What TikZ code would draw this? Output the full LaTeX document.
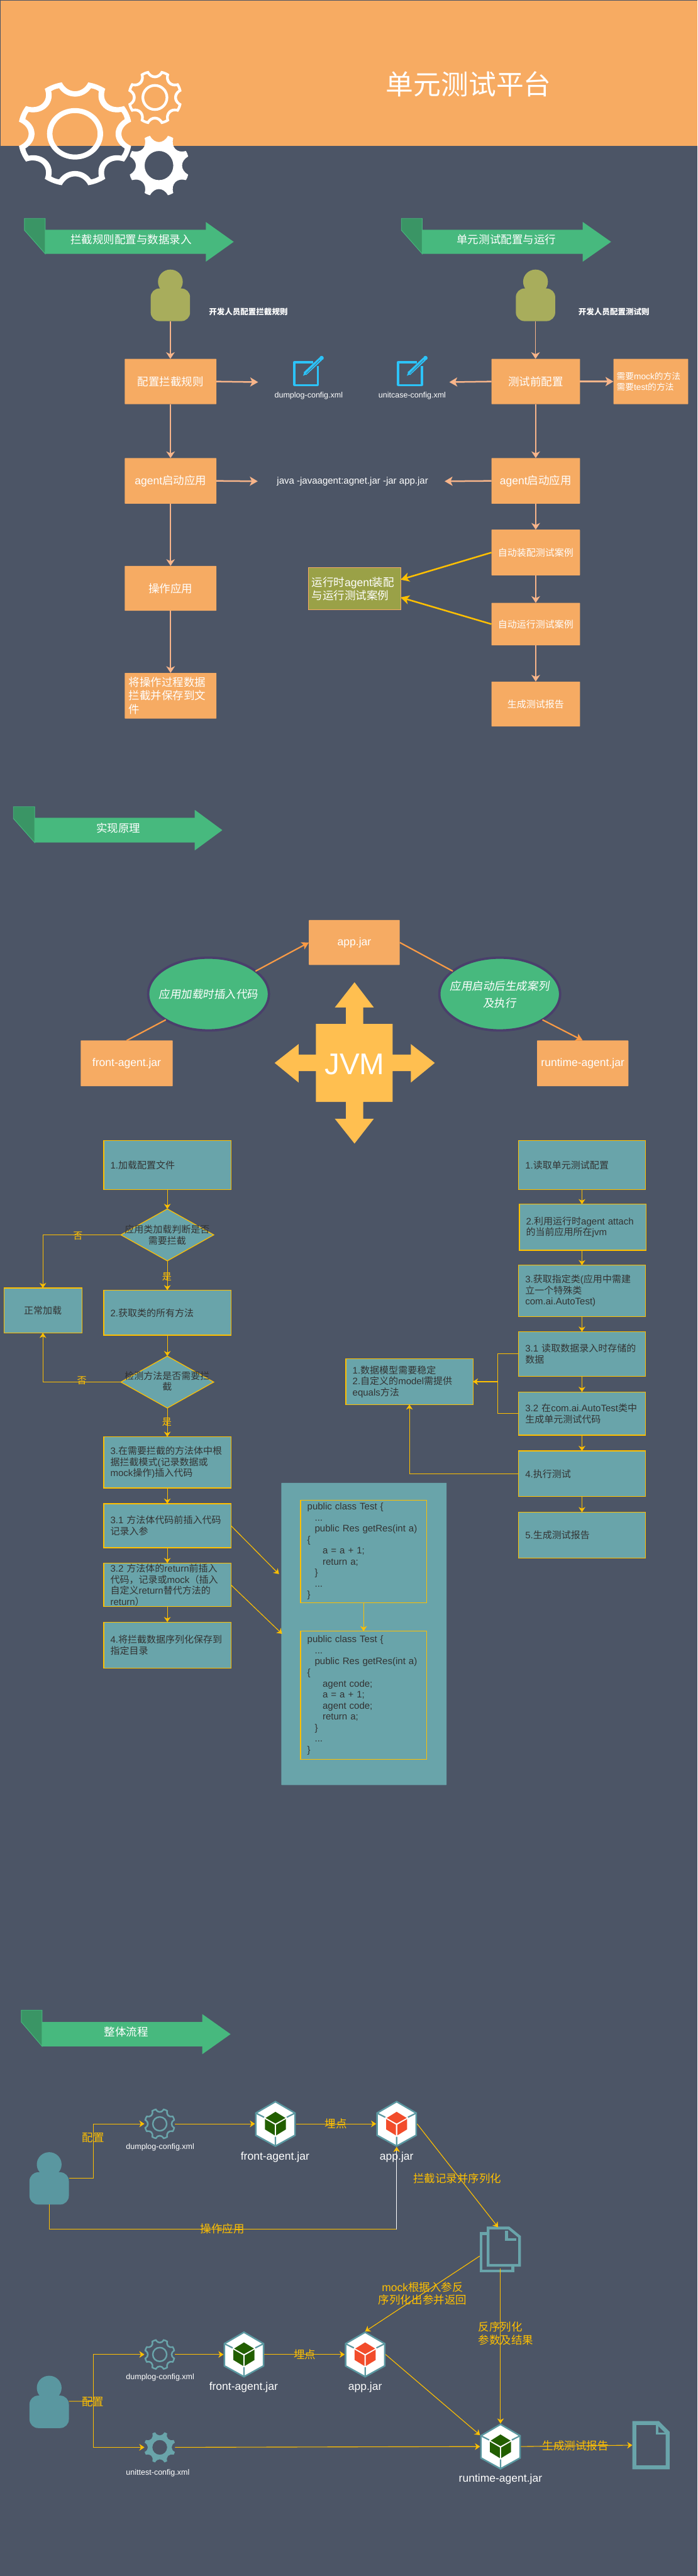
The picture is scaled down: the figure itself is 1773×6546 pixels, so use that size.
\documentclass[tikz,border=0pt]{standalone}
\usepackage{fontspec}
\setmainfont{Liberation Sans}
\newfontfamily\cjk{Noto Sans CJK SC}
\newfontfamily\cjkh[FakeSlant=0.15]{Noto Sans CJK SC}
\usetikzlibrary{arrows.meta,shapes.geometric,calc}
\definecolor{cBg}{HTML}{4C5566}
\definecolor{cHead}{HTML}{F7AB62}
\definecolor{cPeach}{HTML}{F6AB63}
\definecolor{cLine}{HTML}{F8B58A}
\definecolor{cTeal}{HTML}{69A4AA}
\definecolor{cPers}{HTML}{5A97A0}
\definecolor{cYel}{HTML}{FFC000}
\definecolor{cGreen}{HTML}{47B97E}
\definecolor{cTab}{HTML}{3A9565}
\definecolor{cOlive}{HTML}{A8AD5C}
\definecolor{cOliveBox}{HTML}{9AA147}
\definecolor{cBlue}{HTML}{2CC3F8}
\definecolor{cJvm}{HTML}{FFBF50}
\definecolor{cOrange}{HTML}{FA9B45}
\definecolor{cRim}{HTML}{4A3F6B}
\definecolor{cDark}{HTML}{333333}
\definecolor{cCubeG}{HTML}{225E00}
\definecolor{cCubeR}{HTML}{F24C2B}
\newcommand\fz[2]{\fontsize{#1pt}{#2pt}\selectfont}
\newcommand\cn[1]{{\cjk #1}}
\newcommand\cnb[1]{{\cjk\bfseries #1}}
\tikzset{
  peachbox/.style={fill=cPeach,text=white,rounded corners=1pt,align=center,inner sep=0pt,outer sep=0pt,font=\fz{28}{34}},
  peachsmall/.style={peachbox,font=\fz{24}{28}},
  tealbox/.style={fill=cTeal,draw=cYel,line width=2pt,text=cDark,align=left,inner xsep=17pt,inner ysep=0pt,outer sep=0pt,font=\fz{24}{28}},
  tealcentre/.style={fill=cTeal,draw=cYel,line width=2pt,text=cDark,align=center,inner sep=0pt,outer sep=0pt,font=\fz{24}{28}},
  decide/.style={diamond,fill=cTeal,draw=cYel,line width=2pt,inner sep=0pt,outer sep=0pt,text=cDark},
  roundel/.style={ellipse,fill=cGreen,draw=cRim,line width=6pt,inner sep=0pt,outer sep=0pt,minimum width=307pt,minimum height=185pt},
  roundeltext/.style={text=white,inner sep=0pt,align=center,font=\fz{28}{43}},
  freebox/.style={inner sep=0pt,outer sep=0pt},
  wlabel/.style={text=white,inner sep=0pt,align=center,font=\fz{28}{34}},
  wsmall/.style={text=white,inner sep=0pt,align=center,font=\fz{20}{24}},
  ylabel/.style={text=cYel,inner sep=0pt,align=center,font=\fz{28}{33}},
  ysmall/.style={text=cYel,inner sep=0pt,align=center,font=\fz{24}{28}},
  dtext/.style={text=cDark,inner sep=0pt,align=center,font=\fz{24}{28}},
  thinpeach/.style={draw=cLine,line width=2.5pt,-{Stealth[length=17pt,width=22pt,inset=5pt]}},
  thickpeach/.style={draw=cLine,line width=4pt,-{Stealth[length=20pt,width=23pt,inset=5pt]}},
  yelthick/.style={draw=cYel,line width=4pt,-{Stealth[length=22pt,width=23pt,inset=6pt]}},
  yelarrow/.style={draw=cYel,line width=1.8pt,-{Stealth[length=13pt,width=17pt,inset=4pt]}},
  yelline/.style={draw=cYel,line width=1.8pt},
  orangearrow/.style={draw=cOrange,line width=3.5pt,-{Stealth[length=18pt,width=20pt,inset=4pt]}},
  orangeline/.style={draw=cOrange,line width=3.5pt},
  hexanchor/.style={freebox,minimum width=104pt,minimum height=117pt},
}
% box from corners
\newcommand\mybox[7]{%
  \pgfmathsetmacro\bxw{#4-#2}\pgfmathsetmacro\bxh{#5-#3}%
  \pgfmathsetmacro\bxx{(#2+#4)/2}\pgfmathsetmacro\bxy{(#3+#5)/2}%
  \node[#6,minimum width=\bxw pt,minimum height=\bxh pt] (#1) at (\bxx,\bxy) {#7};}
\newcommand\tealb[6]{%
  \pgfmathsetmacro\bxt{#4-#2-34}\pgfmathsetmacro\bxh{#5-#3}%
  \pgfmathsetmacro\bxx{(#2+#4)/2}\pgfmathsetmacro\bxy{(#3+#5)/2}%
  \node[tealbox,text width=\bxt pt,minimum height=\bxh pt] (#1) at (\bxx,\bxy) {#6};}
% banner: tabL top tabLeftBottom tabR bodyTop bodyBottom headX headTop tipX
\newcommand\banner[9]{%
  \pgfmathsetmacro\bnm{(#5+#6)/2}%
  \fill[cGreen] (#4,#5) -- (#7,#5) -- (#7,#8) -- (#9,\bnm) -- (#7,{2*\bnm-#8}) -- (#7,#6) -- (#4,#6) -- cycle;
  \filldraw[fill=cTab,draw=cGreen,line width=1.5pt] (#1,#2) -- (#4,#2) -- (#4,#6) -- (#1,#3) -- cycle;}
% outlined gear
\newcommand\gearO[6]{%
  \node[freebox,minimum width=78pt,minimum height=78pt] (#1) at (#2,#3) {};
  \begin{scope}[shift={(#2,#3)},x=#4pt,y=#5pt]
  \fill[#6,even odd rule] ({-13.3}:1) \foreach \ga in {0,45,...,315} { .. controls ({\ga-9.5}:0.76) and ({\ga+9.5}:0.76) .. ({\ga+13.3}:1) .. controls ({\ga+19.3}:1.012) and ({\ga+25.7}:1.012) .. ({\ga+31.7}:1) } -- cycle
     ({-17.8}:0.906) \foreach \ga in {0,45,...,315} { .. controls ({\ga-12}:0.665) and ({\ga+12}:0.665) .. ({\ga+17.8}:0.906) .. controls ({\ga+21}:0.915) and ({\ga+24}:0.915) .. ({\ga+27.2}:0.906) } -- cycle;
  \fill[#6,even odd rule] (0,0) circle[radius=0.49] (0,0) circle[radius=0.392];
  \end{scope}}
% filled gear
\newcommand\gearF[6]{%
  \node[freebox,minimum width=78pt,minimum height=78pt] (#1) at (#2,#3) {};
  \begin{scope}[shift={(#2,#3)},x=#4pt,y=#5pt]
  \fill[#6,even odd rule] ({-17}:1) \foreach \ga in {0,45,...,315} { .. controls ({\ga-12}:0.707) and ({\ga+12}:0.707) .. ({\ga+17}:1) .. controls ({\ga+20}:1.008) and ({\ga+25}:1.008) .. ({\ga+28}:1) } -- cycle
     (0,0) circle[radius=0.47];
  \end{scope}}
% hexagon with cube
\newcommand\hexicon[4]{%
  \node[hexanchor] (#1) at (#2,#3) {};
  \begin{scope}[shift={(#2,#3)}]
  \filldraw[fill=white,draw=cPers,line width=4pt,miter limit=4] (0,-56.5) -- (49.7,-27.5) -- (49.7,29) -- (0,56.5) -- (-49.7,29) -- (-49.7,-27.5) -- cycle;
  \draw[cPers,line width=3.5pt] (-48,-26.5) -- (-28.7,-16.7) (48,-26.5) -- (28.7,-16.7) (0,32.7) -- (0,55);
  \fill[#4] (0,-30.7) -- (25.5,-15) -- (0,-1) -- (-25,-15) -- cycle;
  \fill[#4] (-26.7,-12.3) -- (-1.7,2.3) -- (-1.7,29.3) -- (-26.7,14) -- cycle;
  \fill[#4] (26.7,-12.3) -- (1.7,2.3) -- (1.7,29.3) -- (26.7,14) -- cycle;
  \end{scope}}
% edit icon
\newcommand\editicon[3]{%
  \node[freebox,minimum width=66pt,minimum height=64pt] (#1) at ({#2+33},{#3+32}) {};
  \begin{scope}[shift={(#2,#3)}]
  \draw[cBlue,line width=5.5pt,line join=round] (63.2,12.3) -- (63.2,60.5) -- (2.8,60.5) -- (2.8,2.8) -- (51,2.8);
  \draw[cBlue,line width=9.5pt] (30,31.6) -- (70,-6);
  \fill[cBlue] (25,37) -- (28.5,28) -- (33,33.5) -- cycle;
  \draw[cBg,line width=0.9pt] (32.5,31.7) -- (68,-3.3);
  \fill[cBlue] (72.3,-8.3) circle[radius=5.5];
  \end{scope}}
% person
\newcommand\person[6]{%
  \fill[#6] (#2,#3) ellipse[x radius=31.5,y radius=31];
  \pgfmathsetmacro\pbh{#5-#4}\pgfmathsetmacro\pby{(#4+#5)/2}%
  \node[freebox,fill=#6,rounded corners=22pt,minimum width=100pt,minimum height=\pbh pt] (#1) at (#2,\pby) {};}

\begin{document}
\begin{tikzpicture}[x=1pt,y=-1pt]
\useasboundingbox (0,0) rectangle (1773,6546);
\fill[cBg] (0,0) rectangle (1773,6546);
\fill[cHead] (1,1.5) rectangle (1773,370);

% header
\node[text=white,inner sep=0pt,font=\fz{70}{80}] (title) at (1191,214) {\cn{单元测试平台}};
\begin{scope}[shift={(190.7,340)},x=146.4pt,y=134.3pt]
\fill[white,even odd rule] ({-13.3}:1) \foreach \ga in {0,45,...,315} { .. controls ({\ga-9.5}:0.76) and ({\ga+9.5}:0.76) .. ({\ga+13.3}:1) .. controls ({\ga+19.3}:1.012) and ({\ga+25.7}:1.012) .. ({\ga+31.7}:1) } -- cycle
   ({-17.8}:0.906) \foreach \ga in {0,45,...,315} { .. controls ({\ga-12}:0.665) and ({\ga+12}:0.665) .. ({\ga+17.8}:0.906) .. controls ({\ga+21}:0.915) and ({\ga+24}:0.915) .. ({\ga+27.2}:0.906) } -- cycle;
\fill[white,even odd rule] (0,0) circle[radius=0.487] (0,0) circle[radius=0.392];
\end{scope}
\gearO{gearsmall}{393.7}{247.7}{69.5}{69.5}{white}
\gearF{gearfull}{404}{420.7}{77.5}{78.8}{white}

% banners
\banner{62}{555}{585}{115}{584}{645}{523}{564}{594}
\node[wlabel] (ban1) at (333,609) {\cn{拦截规则配置与数据录入}};
\banner{1020}{555}{585}{1073}{584}{645}{1481}{564}{1553}
\node[wlabel] (ban2) at (1287,609) {\cn{单元测试配置与运行}};
\banner{34}{2050}{2080}{88}{2078}{2141}{495}{2058}{565}
\node[wlabel] (ban3) at (301,2105) {\cn{实现原理}};
\banner{54}{5108}{5138}{107}{5138}{5200}{514}{5118}{586}
\node[wlabel] (ban4) at (321,5163) {\cn{整体流程}};

% section 1 left
\person{dev1}{433}{716}{733}{816}{cOlive}
\node[text=white,inner sep=0pt,anchor=west,font=\fz{20}{24}] (dev1t) at (531,793) {\cnb{开发人员配置拦截规则}};
\mybox{a1}{317}{912}{550}{1027}{peachbox}{\cn{配置拦截规则}}
\mybox{a2}{317}{1164}{550}{1280}{peachbox}{agent\cn{启动应用}}
\mybox{a3}{317}{1438}{550}{1552}{peachbox}{\cn{操作应用}}
\mybox{a4}{317}{1710}{550}{1826}{peachbox,align=left,text width=213pt}{\cn{将操作过程数据}\\\cn{拦截并保存到文}\\\cn{件}}
% section 1 right
\person{dev2}{1361}{716}{733}{816}{cOlive}
\node[text=white,inner sep=0pt,anchor=west,font=\fz{20}{24}] (dev2t) at (1470,793) {\cnb{开发人员配置测试则}};
\mybox{b1}{1249}{912}{1474}{1027}{peachbox}{\cn{测试前配置}}
\mybox{b1x}{1559}{912}{1749}{1027}{peachbox,align=left,text width=174pt,font=\fz{22}{27}}{\cn{需要}mock\cn{的方法}\\\cn{需要}test\cn{的方法}}
\mybox{b2}{1249}{1164}{1474}{1280}{peachbox}{agent\cn{启动应用}}
\mybox{b3}{1249}{1346}{1474}{1462}{peachsmall}{\cn{自动装配测试案例}}
\mybox{b4}{1249}{1532}{1474}{1640}{peachsmall}{\cn{自动运行测试案例}}
\mybox{b5}{1249}{1732}{1474}{1846}{peachsmall}{\cn{生成测试报告}}
\mybox{ol}{784}{1443}{1018}{1549}{fill=cOliveBox,draw=cPeach,line width=1.5pt,text=white,align=left,text width=218pt,inner xsep=8pt,inner ysep=0pt,outer sep=0pt,font=\fz{28}{33}}{\cn{运行时}agent\cn{装配}\\\cn{与运行测试案例}}
\editicon{ed1}{745}{918}
\editicon{ed2}{1009}{918}
\node[wsmall] (ed1t) at (784.5,1005) {dumplog-config.xml};
\node[wsmall] (ed2t) at (1047.5,1005) {unitcase-config.xml};
\node[text=white,inner sep=0pt,font=\fz{24}{28}] (javat) at (896,1223) {java -javaagent:agnet.jar -jar app.jar};
\coordinate (e1) at (656,971);
\coordinate (e2) at (1142,971);
\coordinate (e3) at (655,1223);
\coordinate (e4) at (1130,1223);
\draw[thinpeach] (dev1.south) -- (dev1.south |- a1.north);
\draw[thinpeach] (a1.south) -- (a2.north);
\draw[thinpeach] (a2.south) -- (a3.north);
\draw[thinpeach] (a3.south) -- (a4.north);
\draw[thinpeach] (dev2.south) -- (dev2.south |- b1.north);
\draw[thinpeach] (b1.south) -- (b2.north);
\draw[thinpeach] (b2.south) -- (b3.north);
\draw[thinpeach] (b3.south) -- (b4.north);
\draw[thinpeach] (b4.south) -- (b5.north);
\draw[thickpeach] (a1.east) -- (e1);
\draw[thickpeach] (b1.west) -- (e2);
\draw[thickpeach] (b1.east) -- (b1x.west);
\draw[thickpeach] (a2.east) -- (e3);
\draw[thickpeach] (b2.west) -- (e4);
\draw[yelthick] (b3.west) -- ($(ol.east)+(0,-23)$);
\draw[yelthick] (b4.west) -- ($(ol.east)+(0,22)$);

% section 2
\mybox{japp}{785}{2338}{1016}{2452}{peachbox}{app.jar}
\mybox{jfront}{205}{2644}{439}{2760}{peachbox}{front-agent.jar}
\mybox{jrun}{1365}{2644}{1597}{2760}{peachbox}{runtime-agent.jar}
\node[roundel] (c1) at (530,2526) {};
\node[roundeltext] (c1t) at (530,2527) {\cjkh 应用加载时插入代码};
\node[roundel] (c2) at (1270,2526) {};
\node[roundeltext] (c2t) at (1270,2526.5) {\cjkh 应用启动后生成案列\\\cjkh 及执行};
\draw[orangeline] (jfront.north) -- (c1.south west);
\draw[orangearrow] (c1.26) -- (japp.west);
\draw[orangeline] (japp.east) -- (c2.154);
\draw[orangearrow] (c2.south east) -- (jrun.north);
\fill[cJvm] (879,2602) -- (879,2560) -- (851,2560) -- (901,2496) -- (950,2560) -- (923,2560) -- (923,2602) -- (998,2602) -- (998,2680) -- (1044,2680) -- (1044,2653) -- (1105,2701) -- (1044,2751) -- (1044,2722) -- (998,2722) -- (998,2800) -- (923,2800) -- (923,2843) -- (950,2843) -- (901,2906) -- (851,2843) -- (879,2843) -- (879,2800) -- (803,2800) -- (803,2722) -- (759,2722) -- (759,2751) -- (698,2701) -- (759,2653) -- (759,2680) -- (803,2680) -- (803,2602) -- cycle;
\node[text=white,inner sep=0pt,font=\fz{76}{80}] (jvm) at (901,2705) {JVM};

% section 3 left flow
\tealb{f1}{263.5}{2898}{587}{3023}{1.\cn{加载配置文件}}
\node[decide,minimum width=236pt,minimum height=132pt] (d1) at (425.25,3138) {};
\node[dtext] (d1t) at (425,3138) {\cn{应用类加载判断是否}\\\cn{需要拦截}};
\mybox{nl}{10}{3273}{208}{3387}{tealcentre}{\cn{正常加载}}
\tealb{f2}{263.5}{3278.6}{587}{3393}{2.\cn{获取类的所有方法}}
\node[decide,minimum width=236pt,minimum height=132pt] (d2) at (425.25,3512) {};
\node[dtext] (d2t) at (425,3510) {\cn{检测方法是否需要拦}\\\cn{截}};
\tealb{f3}{263.5}{3651}{587}{3781}{3.\cn{在需要拦截的方法体中根}\\\cn{据拦截模式}(\cn{记录数据或}\\mock\cn{操作})\cn{插入代码}}
\tealb{f31}{263.5}{3821}{587}{3933}{3.1 \cn{方法体代码前插入代码}\\\cn{记录入参}}
\tealb{f32}{263.5}{3972}{587}{4083}{3.2 \cn{方法体的}return\cn{前插入}\\\cn{代码，记录或}mock\cn{（插入}\\\cn{自定义}return\cn{替代方法的}\\return\cn{）}}
\tealb{f4}{263.5}{4122}{587}{4239}{4.\cn{将拦截数据序列化保存到}\\\cn{指定目录}}
\draw[yelarrow] (f1.south) -- (d1.north);
\draw[yelarrow] (d1.south) -- (f2.north);
\draw[yelarrow] (f2.south) -- (d2.north);
\draw[yelarrow] (d2.south) -- (f3.north);
\draw[yelarrow] (f3.south) -- (f31.north);
\draw[yelarrow] (f31.south) -- (f32.north);
\draw[yelarrow] (f32.south) -- (f4.north);
\draw[yelarrow] (d1.west) -| (nl.north);
\draw[yelarrow] (d2.west) -| (nl.south);
\node[ysmall] (no1) at (198,3140) {\cn{否}};
\node[ysmall] (no2) at (208,3509) {\cn{否}};
\node[ysmall] (yes1) at (424,3245) {\cn{是}};
\node[ysmall] (yes2) at (424,3613) {\cn{是}};

% code panel
\mybox{panel}{715}{3768}{1135}{4536}{fill=cTeal,rounded corners=1pt}{}
\tealb{cb1}{764}{3812}{1084}{4073}{public class Test \{\\\hspace*{19pt}...\\\hspace*{19pt}public Res getRes(int a)\\\{\\\hspace*{39pt}a = a + 1;\\\hspace*{39pt}return a;\\\hspace*{19pt}\}\\\hspace*{19pt}...\\\}}
\tealb{cb2}{764}{4145}{1084}{4471}{public class Test \{\\\hspace*{19pt}...\\\hspace*{19pt}public Res getRes(int a)\\\{\\\hspace*{39pt}agent code;\\\hspace*{39pt}a = a + 1;\\\hspace*{39pt}agent code;\\\hspace*{39pt}return a;\\\hspace*{19pt}\}\\\hspace*{19pt}...\\\}}
\draw[yelarrow] (cb1.south) -- (cb2.north);
\coordinate (p1) at (709,4000);
\coordinate (p2) at (717,4152);
\draw[yelarrow] (f31.east) -- (p1);
\draw[yelarrow] (f32.east) -- (p2);

% section 3 right flow
\tealb{r1}{1318}{2898}{1640}{3023}{1.\cn{读取单元测试配置}}
\tealb{r2}{1320}{3060}{1642}{3177}{2.\cn{利用运行时}agent attach\\\cn{的当前应用所在}jvm}
\tealb{r3}{1318}{3215}{1640}{3345.5}{3.\cn{获取指定类}(\cn{应用中需建}\\\cn{立一个特殊类}\\com.ai.AutoTest)}
\tealb{r31}{1318}{3384}{1640}{3497}{3.1 \cn{读取数据录入时存储的}\\\cn{数据}}
\tealb{r32}{1318}{3537}{1640}{3647}{3.2 \cn{在}com.ai.AutoTest\cn{类中}\\\cn{生成单元测试代码}}
\tealb{r4}{1318}{3687}{1640}{3803}{4.\cn{执行测试}}
\tealb{r5}{1318}{3842.7}{1640}{3959}{5.\cn{生成测试报告}}
\tealb{note}{879}{3453}{1202}{3569}{1.\cn{数据模型需要稳定}\\2.\cn{自定义的}model\cn{需提供}\\equals\cn{方法}}
\draw[yelarrow] (r1.south) -- (r1.south |- r2.north);
\draw[yelarrow] (r1.south |- r2.south) -- (r3.north);
\draw[yelarrow] (r3.south) -- (r31.north);
\draw[yelarrow] (r31.south) -- (r32.north);
\draw[yelarrow] (r32.south) -- (r4.north);
\draw[yelarrow] (r4.south) -- (r5.north);
\coordinate (rj) at (1265.5,3511);
\draw[yelline] (r31.west) -| (rj);
\draw[yelline] (r32.west) -| (rj);
\draw[yelarrow] (rj) -- (note.east);
\draw[yelarrow] (r4.west) -| (note.south);

% section 4 upper
\person{pa}{125}{5500}{5520}{5602}{cPers}
\gearO{ga1}{406}{5397}{40}{40}{cTeal}
\hexicon{fa1}{700}{5397}{cCubeG}
\hexicon{app1}{1008}{5397}{cCubeR}
% doc stack
\node[freebox,minimum width=105pt,minimum height=116pt] (docs) at (1271.5,5716) {};
\draw[cTeal,line width=7pt] (1237,5675.5) -- (1222.5,5675.5) -- (1222.5,5770.5) -- (1303.5,5770.5) -- (1303.5,5760);
\draw[cTeal,line width=7pt] (1240.5,5661.5) -- (1293,5661.5) -- (1320.5,5684) -- (1320.5,5756.5) -- (1240.5,5756.5) -- cycle;
\draw[cTeal,line width=7pt] (1287,5668) -- (1287,5691) -- (1312,5691);
\coordinate (docin) at (1266,5660);
\coordinate (docout) at (1219,5733);
\coordinate (docbot) at (1272,5764);
\coordinate (opc) at (1008,5665);
\draw[yelline] (pa.south) |- (opc);
\draw[white,line width=1pt,-{Stealth[length=13pt,width=17pt,inset=4pt,color=cYel]}] (opc) -- (app1.south);
\draw[yelarrow] ($(pa.east)+(0,-26)$) -- ++(62,0) |- (ga1.west);
\draw[yelarrow] (ga1.east) -- (fa1.west);
\draw[yelarrow] (fa1.east) -- (app1.west);
\draw[yelarrow] (app1.east) -- (docin);

% section 4 lower
\person{pb}{125}{6068}{6087.5}{6170}{cPers}
\gearO{gb1}{406}{5983}{40}{40}{cTeal}
\gearF{gb2}{406}{6219}{40}{40}{cTeal}
\hexicon{fb1}{620}{5983}{cCubeG}
\hexicon{app2}{928}{5983}{cCubeR}
\hexicon{rt}{1272}{6217}{cCubeG}
\node[freebox,minimum width=95pt,minimum height=123pt] (rep) at (1654.5,6213.5) {};
\draw[cTeal,line width=10pt] (1612,6157) -- (1672,6157) -- (1697,6182) -- (1697,6270) -- (1612,6270) -- cycle;
\draw[cTeal,line width=6pt] (1670,6157) -- (1670,6184) -- (1697,6184);
\coordinate (tr) at (237,6102);
\draw[yelline] ($(pb.east)+(0,-27)$) -- (tr);
\draw[yelarrow] (tr) |- (gb1.west);
\draw[yelarrow] (tr) |- (gb2.west);
\draw[yelarrow] (gb1.east) -- (fb1.west);
\draw[yelarrow] (fb1.east) -- (app2.west);
\draw[yelarrow] (app2.east) -- ($(rt.west)+(0,-29)$);
\draw[yelarrow] (gb2.east) -- (rt.west);
\draw[yelarrow] (rt.east) -- (rep.west);
\draw[yelarrow] (docout) -- (app2.north);
\draw[yelarrow] (docbot) -- (rt.north);

% section 4 texts
\node[wsmall] (t1) at (407,5456) {dumplog-config.xml};
\node[wlabel] (t2) at (699,5482) {front-agent.jar};
\node[wlabel] (t3) at (1008,5482) {app.jar};
\node[wsmall] (t4) at (407,6041) {dumplog-config.xml};
\node[wlabel] (t5) at (619,6066) {front-agent.jar};
\node[wlabel] (t6) at (928,6066) {app.jar};
\node[wsmall] (t7) at (401,6285) {unittest-config.xml};
\node[wlabel] (t8) at (1272,6300) {runtime-agent.jar};
\node[ylabel] (y1) at (237,5433) {\cn{配置}};
\node[ylabel] (y2) at (854,5397) {\cn{埋点}};
\node[ylabel] (y3) at (565,5663) {\cn{操作应用}};
\node[ylabel] (y4) at (1162,5535) {\cn{拦截记录并序列化}};
\node[ylabel] (y5) at (1074,5828) {mock\cn{根据入参反}\\\cn{序列化出参并返回}};
\node[ylabel,align=left,anchor=west] (y6) at (1215.5,5930) {\cn{反序列化}\\\cn{参数及结果}};
\node[ylabel] (y7) at (236,6103) {\cn{配置}};
\node[ylabel] (y8) at (774.5,5983) {\cn{埋点}};
\node[ylabel] (y9) at (1463,6215) {\cn{生成测试报告}};
\end{tikzpicture}
\end{document}
